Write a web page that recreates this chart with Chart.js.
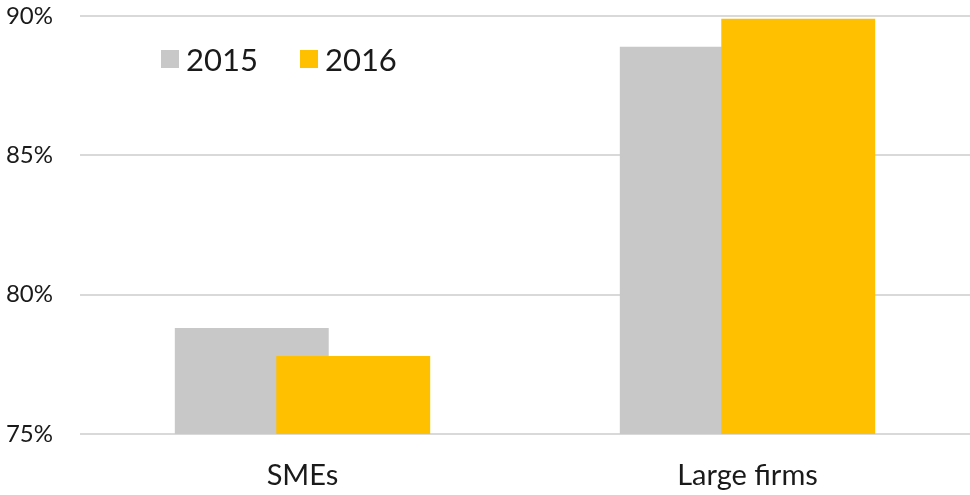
<!DOCTYPE html>
<html>
<head>
<meta charset="utf-8">
<script src="https://cdn.jsdelivr.net/npm/chart.js@4/dist/chart.umd.min.js"></script>
<style>
  html, body { margin: 0; padding: 0; background: #fff; }
  #wrap { position: relative; width: 970px; height: 495px; }
  #legend { position: absolute; left: 161px; top: 40px; display: flex; font-family: Lato, "Noto Sans", sans-serif; font-size: 31px; color: #1a1a1a; }
  #legend .item { display: flex; align-items: center; margin-right: 42px; }
  #legend .box { width: 18px; height: 18px; margin-right: 7px; }
</style>
</head>
<body>
<div id="wrap">
  <canvas id="c" width="970" height="495"></canvas>
  <div id="legend"></div>
</div>
<script>
const categories = ["SMEs", "Large firms"];
const seriesLabels = ["2015", "2016"];
const values2015 = [78.8, 88.9];
const values2016 = [77.8, 89.9];
const yTicks = [75, 80, 85, 90];
const colors = ["#C8C8C8", "#FFC000"];

const FONT = "Lato, 'Noto Sans', sans-serif";

// draw datasets in index order so the later series overlaps the earlier one
const drawInOrder = {
  id: "drawInOrder",
  beforeDatasetsDraw(chart) {
    const ctx = chart.ctx;
    const a = chart.chartArea;
    ctx.save();
    ctx.beginPath();
    ctx.rect(a.left, a.top - 2, a.right - a.left, a.bottom - a.top + 2);
    ctx.clip();
    chart.data.datasets.forEach((ds, i) => {
      const meta = chart.getDatasetMeta(i);
      if (!meta.hidden) meta.controller.draw();
    });
    ctx.restore();
    return false;
  }
};

const chart = new Chart(document.getElementById("c"), {
  type: "bar",
  data: {
    labels: categories,
    datasets: [
      { label: seriesLabels[0], data: values2015, backgroundColor: colors[0] },
      { label: seriesLabels[1], data: values2016, backgroundColor: colors[1] }
    ]
  },
  plugins: [drawInOrder],
  options: {
    responsive: false,
    animation: false,
    layout: { padding: { top: 16, right: 0, left: 0, bottom: 0 } },
    datasets: {
      bar: { categoryPercentage: 0.456, barPercentage: 1.517 }
    },
    plugins: {
      legend: { display: false },
      tooltip: { enabled: false }
    },
    scales: {
      x: {
        grid: { display: false, drawTicks: false },
        border: { display: false },
        ticks: { color: "#1a1a1a", font: { family: FONT, size: 29 }, padding: 24 },
        afterFit: (s) => { s.height = 61; s.paddingLeft = 0; s.paddingRight = 0; }
      },
      y: {
        min: yTicks[0],
        max: yTicks[yTicks.length - 1],
        afterBuildTicks: (s) => { s.ticks = yTicks.map(v => ({ value: v })); },
        grid: { color: "#D9D9D9", lineWidth: 2, drawTicks: false },
        border: { display: false },
        ticks: {
          color: "#1a1a1a",
          font: { family: FONT, size: 24 },
          padding: 27,
          callback: (v) => v + "%"
        },
        afterFit: (s) => { s.width = 80; s.paddingTop = 0; s.paddingBottom = 0; }
      }
    }
  }
});

const legend = document.getElementById("legend");
chart.data.datasets.forEach((ds) => {
  const item = document.createElement("div");
  item.className = "item";
  const box = document.createElement("span");
  box.className = "box";
  box.style.background = ds.backgroundColor;
  const txt = document.createElement("span");
  txt.textContent = ds.label;
  item.appendChild(box);
  item.appendChild(txt);
  legend.appendChild(item);
});
</script>
</body>
</html>
